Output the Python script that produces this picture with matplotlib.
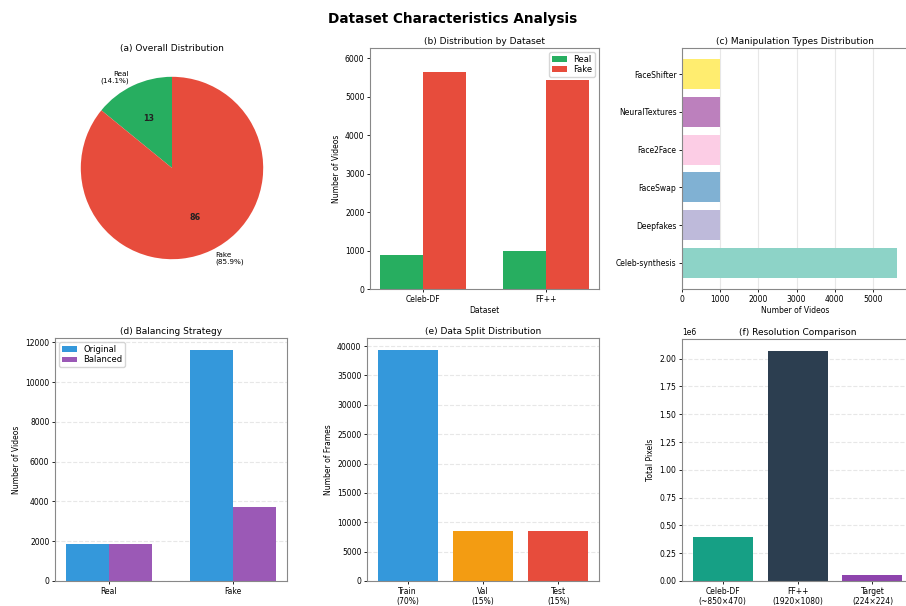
import matplotlib
matplotlib.use("Agg")
import matplotlib.pyplot as plt
import numpy as np

# ---------------- data ----------------
pie_labels = ["Real\n(14.1%)", "Fake\n(85.9%)"]
pie_values = [14.1, 85.9]
pie_inner_text = ["13", "86"]

datasets = ["Celeb-DF", "FF++"]
real_by_dataset = [890, 1000]
fake_by_dataset = [5639, 5430]

manip_types = ["Celeb-synthesis", "Deepfakes", "FaceSwap", "Face2Face", "NeuralTextures", "FaceShifter"]
manip_counts = [5639, 1000, 1000, 1000, 1000, 1000]

balance_classes = ["Real", "Fake"]
balance_original = [1860, 11640]
balance_balanced = [1860, 3720]

split_labels = ["Train\n(70%)", "Val\n(15%)", "Test\n(15%)"]
split_frames = [39400, 8440, 8440]

res_labels = ["Celeb-DF\n(~850×470)", "FF++\n(1920×1080)", "Target\n(224×224)"]
res_pixels = [850 * 470, 1920 * 1080, 224 * 224]

# ---------------- style ----------------
W, H = 906, 606
TICK = 5.5
LAB = 5.5
TIT = 6.5
SPINE = "#888888"
GREEN = "#27ae60"
RED = "#e74c3c"
BLUE = "#3498db"
PURPLE = "#9b59b6"

plt.rcParams.update({
    "font.family": ["DejaVu Sans"],
    "xtick.labelsize": TICK,
    "ytick.labelsize": TICK,
    "axes.edgecolor": SPINE,
    "axes.linewidth": 0.8,
    "xtick.major.size": 2,
    "ytick.major.size": 2,
    "xtick.major.width": 0.6,
    "ytick.major.width": 0.6,
    "xtick.major.pad": 2,
    "ytick.major.pad": 2,
    "axes.titlepad": 3,
})

fig = plt.figure(figsize=(W / 100, H / 100), dpi=100)


def add_ax(left, right, top, bottom):
    return fig.add_axes([left / W, 1 - bottom / H, (right - left) / W, (bottom - top) / H])


fig.suptitle("Dataset Characteristics Analysis", fontsize=9.8, fontweight="bold", y=1 - 19 / H, va="center")

# (a) pie
ax_a = add_ax(58, 286, 54, 282)
it = iter(pie_inner_text)
wedges, texts, autotexts = ax_a.pie(pie_values, labels=pie_labels, colors=[GREEN, RED], startangle=90,
                                    autopct=lambda p: next(it), textprops={"fontsize": 5.2})
for t in autotexts:
    t.set_fontweight("bold")
    t.set_fontsize(5.8)
    t.set_color("#222222")
ax_a.set_title("(a) Overall Distribution", fontsize=TIT, pad=2)

# (b) grouped bar
ax_b = add_ax(370, 599, 48, 289)
x = np.arange(len(datasets))
w = 0.35
ax_b.bar(x - w / 2, real_by_dataset, w, label="Real", color=GREEN)
ax_b.bar(x + w / 2, fake_by_dataset, w, label="Fake", color=RED)
ax_b.set_xticks(x)
ax_b.set_xticklabels(datasets)
ax_b.set_ylim(0, 6260)
ax_b.set_xlabel("Dataset", fontsize=LAB, labelpad=2)
ax_b.set_ylabel("Number of Videos", fontsize=LAB, labelpad=3)
ax_b.set_title("(b) Distribution by Dataset", fontsize=TIT)
ax_b.legend(fontsize=6, loc="upper right", frameon=True, handlelength=1.8, borderpad=0.3, labelspacing=0.2)

# (c) horizontal bars
ax_c = add_ax(682, 908, 48, 289)
cols_c = plt.cm.Set3(np.linspace(0, 1, len(manip_types)))
ax_c.barh(manip_types, manip_counts, color=cols_c)
ax_c.set_xlabel("Number of Videos", fontsize=LAB, labelpad=2)
ax_c.set_title("(c) Manipulation Types Distribution", fontsize=TIT)
ax_c.grid(axis="x", alpha=0.3)
ax_c.set_axisbelow(True)

# (d) balancing
ax_d = add_ax(55, 287, 338, 581)
x = np.arange(len(balance_classes))
ax_d.bar(x - w / 2, balance_original, w, label="Original", color=BLUE)
ax_d.bar(x + w / 2, balance_balanced, w, label="Balanced", color=PURPLE)
ax_d.set_xticks(x)
ax_d.set_xticklabels(balance_classes)
ax_d.set_ylabel("Number of Videos", fontsize=LAB, labelpad=3)
ax_d.set_title("(d) Balancing Strategy", fontsize=TIT)
ax_d.legend(fontsize=6, loc="upper left", frameon=True, handlelength=1.8, borderpad=0.3, labelspacing=0.2)
ax_d.grid(axis="y", alpha=0.3, linestyle="--")
ax_d.set_axisbelow(True)

# (e) split
ax_e = add_ax(367, 599, 338, 581)
ax_e.bar(split_labels, split_frames, color=[BLUE, "#f39c12", RED])
ax_e.set_ylabel("Number of Frames", fontsize=LAB, labelpad=3)
ax_e.set_title("(e) Data Split Distribution", fontsize=TIT)
ax_e.grid(axis="y", alpha=0.3, linestyle="--")
ax_e.set_axisbelow(True)

# (f) resolution
ax_f = add_ax(682, 913, 339, 581)
ax_f.bar(res_labels, res_pixels, color=["#16a085", "#2c3e50", "#8e44ad"])
ax_f.set_ylabel("Total Pixels", fontsize=LAB, labelpad=3)
ax_f.set_title("(f) Resolution Comparison", fontsize=TIT)
ax_f.grid(axis="y", alpha=0.3, linestyle="--")
ax_f.set_axisbelow(True)
ax_f.yaxis.get_offset_text().set_fontsize(TICK)

fig.savefig("out.png", dpi=100)
